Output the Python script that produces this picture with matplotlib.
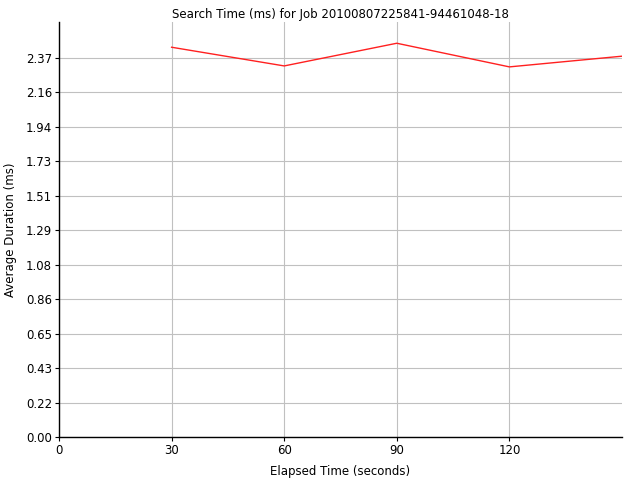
import matplotlib
matplotlib.use('Agg')
from matplotlib import pyplot as plt
import numpy as np

# Values
elapsed = [30, 60, 90, 120, 150]
duration = [2.440, 2.323, 2.465, 2.317, 2.384]
x_ticks = [0, 30, 60, 90, 120]
y_step = 0.2157
y_ticks = [y_step * k for k in range(12)]

title = 'Search Time (ms) for Job 20100807225841-94461048-18'

fig = plt.figure(figsize = (6.4, 4.8), dpi = 100)
ax = fig.add_axes([59 / 640, 1 - 437 / 480, (622 - 59) / 640, (437 - 22) / 480])

ax.plot(elapsed, duration, color = '#ff2020', linewidth = 1)

ax.set_xlim(0, 150)
ax.set_ylim(0, 2.598)
ax.set_xticks(x_ticks)
ax.set_yticks(y_ticks)
ax.set_yticklabels([f'{v:.2f}' for v in y_ticks])

ax.grid(True, color = '#c0c0c0', linewidth = 0.8)
ax.set_axisbelow(True)
for side in ['top', 'right']:
    ax.spines[side].set_visible(False)
for side in ['left', 'bottom']:
    ax.spines[side].set_color('black')
    ax.spines[side].set_linewidth(1)

ax.tick_params(labelsize = 8.5, length = 3, width = 0.8, pad = 2)
ax.set_xlabel('Elapsed Time (seconds)', fontsize = 8.5, labelpad = 6)
ax.set_ylabel('Average Duration (ms)', fontsize = 8.5, labelpad = 6)
ax.set_title(title, fontsize = 8.5, pad = 3)

fig.savefig('out.png', dpi = 100)
